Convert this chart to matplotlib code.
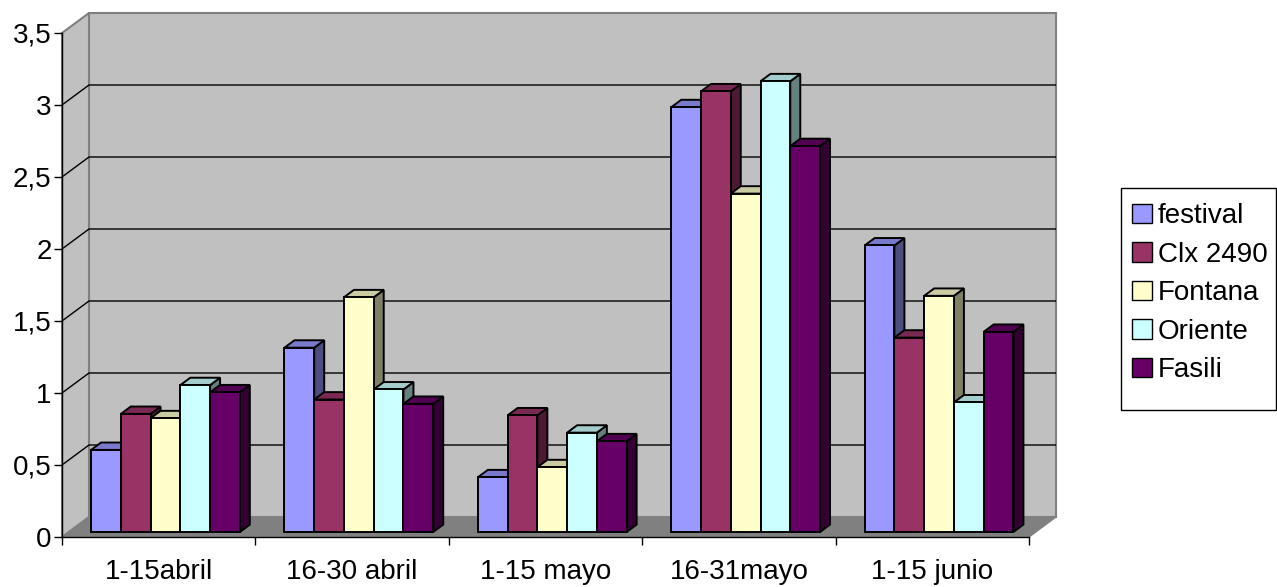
import matplotlib
matplotlib.use("Agg")
import matplotlib.pyplot as plt
from matplotlib.patches import Polygon, Patch, Rectangle
import numpy as np

plt.rcParams['font.family'] = ['Liberation Sans', 'DejaVu Sans']

categories = ["1-15abril", "16-30 abril", "1-15 mayo", "16-31mayo", "1-15 junio"]
series_names = ["festival", "Clx 2490", "Fontana", "Oriente", "Fasili"]
festival = [0.57, 1.28, 0.38, 2.95, 1.99]
clx_2490 = [0.82, 0.92, 0.81, 3.06, 1.35]
fontana = [0.79, 1.63, 0.45, 2.35, 1.64]
oriente = [1.02, 0.99, 0.69, 3.13, 0.90]
fasili = [0.97, 0.89, 0.63, 2.68, 1.39]
series_values = [festival, clx_2490, fontana, oriente, fasili]
series_colors = ["#9999FF", "#993366", "#FFFFCC", "#CCFFFF", "#660066"]
y_ticks = [0, 0.5, 1, 1.5, 2, 2.5, 3, 3.5]
y_tick_labels = ["0", "0,5", "1", "1,5", "2", "2,5", "3", "3,5"]

W, H = 1277, 587
fig = plt.figure(figsize=(W / 100, H / 100), dpi=100)
fig.patch.set_facecolor("white")

# front plane of the plot: x in category units, y in value units
ax = fig.add_axes([62 / W, 50 / H, 967 / W, 504 / H])
n_cat = len(categories)
ymax = 3.5
ax.set_xlim(0, n_cat)
ax.set_ylim(0, ymax)
ax.set_facecolor("none")

# depth offset of the back wall, expressed in data units
px_x = 967 / n_cat
px_y = 504 / ymax
DX = 27 / px_x
DY = 20 / px_y

wall_c = "#C0C0C0"
floor_c = "#808080"
border_c = "#808080"

# side wall, back wall and floor
side = Polygon([(0, 0), (DX, DY), (DX, ymax + DY), (0, ymax)], closed=True,
               facecolor=wall_c, edgecolor=border_c, lw=1.5, clip_on=False, zorder=0)
back = Polygon([(DX, DY), (n_cat + DX, DY), (n_cat + DX, ymax + DY), (DX, ymax + DY)],
               closed=True, facecolor=wall_c, edgecolor=border_c, lw=1.5,
               clip_on=False, zorder=0)
floor = Polygon([(0, 0), (DX, DY), (n_cat + DX, DY), (n_cat, 0)], closed=True,
                facecolor=floor_c, edgecolor=border_c, lw=1.0, clip_on=False, zorder=0.5)
for p in (back, side, floor):
    ax.add_patch(p)

# gridlines on the side and back walls
for v in y_ticks[1:-1]:
    ax.plot([0, DX, n_cat + DX], [v, v + DY, v + DY], color="black", lw=1.0,
            clip_on=False, zorder=0.6, solid_capstyle="butt")


def shade(hex_color, k):
    r, g, b = matplotlib.colors.to_rgb(hex_color)
    return (r * k, g * k, b * k)


n_ser = len(series_values)
bw = 1.0 / (n_ser + 1.5)
d0, d1 = 0.25, 0.62  # bar depth span as a fraction of the floor depth
fx, fy = d0 * DX, d0 * DY
bx, by = (d1 - d0) * DX, (d1 - d0) * DY

for i in range(n_cat):
    for j in range(n_ser):
        v = series_values[j][i]
        c = series_colors[j]
        x0 = i + 0.75 * bw + j * bw + fx
        x1 = x0 + bw
        y0 = fy
        y1 = fy + v
        kw = dict(closed=True, edgecolor="black", lw=1.4, clip_on=False,
                  zorder=3, joinstyle="miter")
        ax.add_patch(Polygon([(x1, y0), (x1 + bx, y0 + by), (x1 + bx, y1 + by), (x1, y1)],
                             facecolor=shade(c, 0.5), **kw))
        ax.add_patch(Polygon([(x0, y1), (x1, y1), (x1 + bx, y1 + by), (x0 + bx, y1 + by)],
                             facecolor=shade(c, 0.8), **kw))
        ax.add_patch(Polygon([(x0, y0), (x1, y0), (x1, y1), (x0, y1)],
                             facecolor=c, **kw))

# axes
for s in ("top", "right"):
    ax.spines[s].set_visible(False)
for s in ("left", "bottom"):
    ax.spines[s].set_color("black")
    ax.spines[s].set_linewidth(1.0)
    ax.spines[s].set_zorder(2)

ax.set_yticks(y_ticks)
ax.set_yticklabels(y_tick_labels)
ax.tick_params(axis="y", direction="out", length=5.5, width=1.0, pad=2,
               labelsize=20, color="black")

ax.set_xticks(np.arange(n_cat + 1))
ax.set_xticklabels([])
ax.set_xticks(np.arange(n_cat) + 0.5, minor=True)
ax.set_xticklabels(categories, minor=True)
ax.tick_params(axis="x", which="major", direction="out", length=6, width=1.0,
               color="black")
ax.tick_params(axis="x", which="minor", length=0, pad=16, labelsize=20)

# legend, with a frame that leaves extra room below the last entry
handles = [Patch(facecolor=c, edgecolor="black", lw=1.0) for c in series_colors]
leg = fig.legend(handles, series_names, loc="upper left",
                 bbox_to_anchor=(1121 / W, 1 - 192 / H), bbox_transform=fig.transFigure,
                 fontsize=20, frameon=False,
                 handlelength=0.72, handleheight=0.72, handletextpad=0.2,
                 labelspacing=0.45, borderpad=0.4, borderaxespad=0)
fig.canvas.draw()
bb = leg.get_window_extent()
x0f, x1f = bb.x0 / W, min(bb.x1, W - 1.5) / W
y0f, y1f = (H - 410) / H, (H - 188) / H
fig.add_artist(Rectangle((x0f, y0f), x1f - x0f, y1f - y0f, transform=fig.transFigure,
                         facecolor="white", edgecolor="black", lw=1.0, zorder=0.5))

fig.savefig("out.png", dpi=100, facecolor="white")
